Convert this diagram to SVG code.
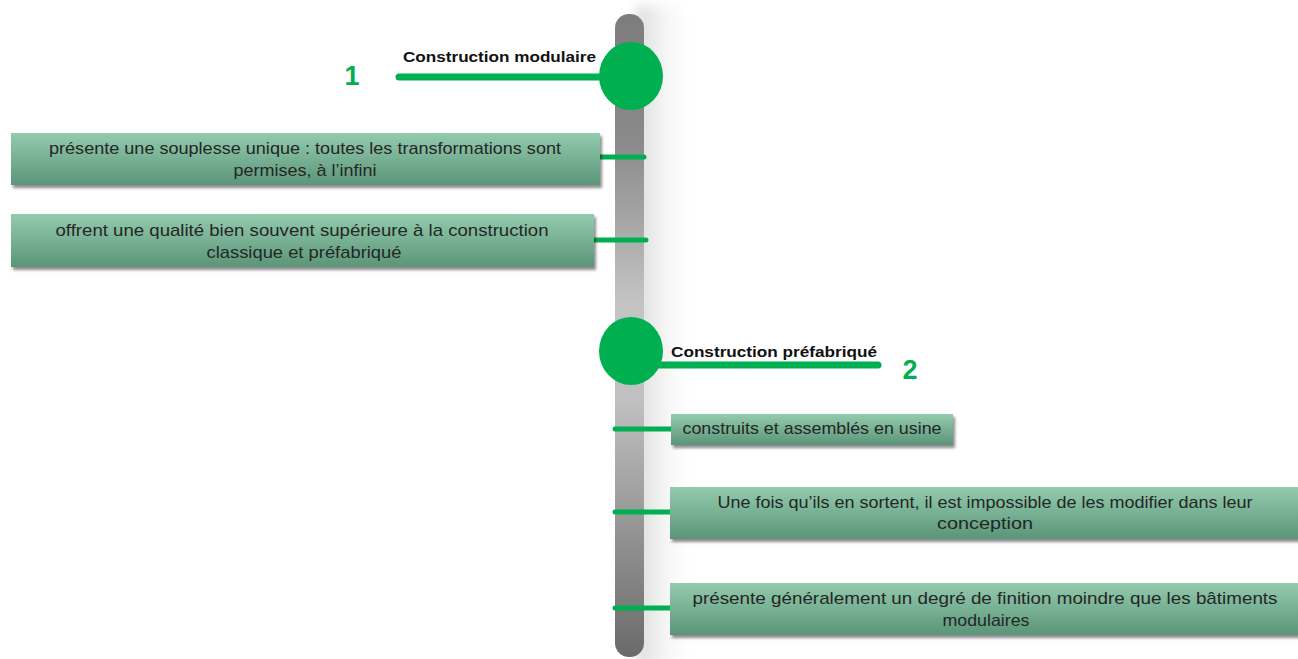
<svg xmlns="http://www.w3.org/2000/svg" width="1298" height="659" viewBox="0 0 1298 659">
<style>
.box{fill:url(#boxg);filter:url(#sh)}
.t{font-family:"Liberation Sans",Arial,sans-serif;font-size:17px;fill:#262626;text-anchor:middle}
.h{font-family:"Liberation Sans",Arial,sans-serif;font-size:15px;font-weight:bold;fill:#111}
.n{font-family:"Liberation Sans",Arial,sans-serif;font-size:27px;font-weight:bold;fill:#00b050;text-anchor:middle}
.c{stroke:#00b050;stroke-width:5;stroke-linecap:round;fill:none}
.m{stroke:#00b050;stroke-width:7;stroke-linecap:round;fill:none}
.dot{fill:#00b050}
</style>
<defs>
<linearGradient id="boxg" x1="0" y1="0" x2="0" y2="1">
<stop offset="0" stop-color="#93cbad"/>
<stop offset="1" stop-color="#5b9579"/>
</linearGradient>
<linearGradient id="barg" x1="0" y1="0" x2="0" y2="1">
<stop offset="0" stop-color="#7d7d7d"/>
<stop offset="0.2" stop-color="#8a8a8a"/>
<stop offset="0.45" stop-color="#c4c4c4"/>
<stop offset="0.6" stop-color="#c0c0c0"/>
<stop offset="0.85" stop-color="#8a8a8a"/>
<stop offset="1" stop-color="#6a6a6a"/>
</linearGradient>
<linearGradient id="bsh" x1="0" y1="0" x2="1" y2="0">
<stop offset="0" stop-color="#d8d8d8"/>
<stop offset="1" stop-color="#ffffff" stop-opacity="0"/>
</linearGradient>
<filter id="sh" x="-5%" y="-20%" width="110%" height="150%">
<feDropShadow dx="2" dy="3" stdDeviation="1.5" flood-color="#000" flood-opacity="0.45"/>
</filter>
<filter id="blur" x="-50%" y="-5%" width="200%" height="110%">
<feGaussianBlur stdDeviation="6"/>
</filter>
</defs>
<rect width="1298" height="659" fill="#ffffff"/>
<g id="timeline">
<rect x="636" y="6" width="60" height="660" fill="url(#bsh)" filter="url(#blur)"/>
<rect x="615" y="14" width="29" height="643" rx="14" fill="url(#barg)"/>
</g>
<g id="connectors">
<line class="m" x1="399" y1="77" x2="630" y2="77"/>
<line class="m" x1="632" y1="365" x2="878" y2="365"/>
<line class="c" x1="598" y1="157" x2="644" y2="157"/>
<line class="c" x1="594" y1="240" x2="646" y2="240"/>
<line class="c" x1="615" y1="429" x2="672" y2="429"/>
<line class="c" x1="615" y1="512" x2="671" y2="512"/>
<line class="c" x1="615" y1="608" x2="671" y2="608"/>
</g>
<g id="node-1">
<ellipse class="dot" cx="631" cy="76" rx="32" ry="34"/>
<text class="n" x="352" y="85">1</text>
<text class="h" x="403" y="62" textLength="193" lengthAdjust="spacingAndGlyphs">Construction modulaire</text>
</g>
<g id="node-2">
<ellipse class="dot" cx="631" cy="351" rx="32" ry="34"/>
<text class="n" x="910" y="379">2</text>
<text class="h" x="671" y="357" textLength="206" lengthAdjust="spacingAndGlyphs">Construction préfabriqué</text>
</g>
<g id="box-1">
<rect class="box" x="11" y="133" width="589" height="52"/>
<text class="t" x="305" y="154" textLength="512" lengthAdjust="spacingAndGlyphs">présente une souplesse unique : toutes les transformations sont</text>
<text class="t" x="305" y="176" textLength="143" lengthAdjust="spacingAndGlyphs">permises, à l’infini</text>
</g>
<g id="box-2">
<rect class="box" x="11" y="214" width="583" height="53"/>
<text class="t" x="302" y="236" textLength="493" lengthAdjust="spacingAndGlyphs">offrent une qualité bien souvent supérieure à la construction</text>
<text class="t" x="304" y="258" textLength="195" lengthAdjust="spacingAndGlyphs">classique et préfabriqué</text>
</g>
<g id="box-3">
<rect class="box" x="671" y="414" width="282" height="31"/>
<text class="t" x="812" y="434" textLength="259" lengthAdjust="spacingAndGlyphs">construits et assemblés en usine</text>
</g>
<g id="box-4">
<rect class="box" x="670" y="487" width="640" height="52"/>
<text class="t" x="985" y="508" textLength="535" lengthAdjust="spacingAndGlyphs">Une fois qu’ils en sortent, il est impossible de les modifier dans leur</text>
<text class="t" x="985" y="529" textLength="96" lengthAdjust="spacingAndGlyphs">conception</text>
</g>
<g id="box-5">
<rect class="box" x="670" y="583" width="640" height="52"/>
<text class="t" x="985" y="604" textLength="585" lengthAdjust="spacingAndGlyphs">présente généralement un degré de finition moindre que les bâtiments</text>
<text class="t" x="986" y="626" textLength="87" lengthAdjust="spacingAndGlyphs">modulaires</text>
</g>
</svg>
